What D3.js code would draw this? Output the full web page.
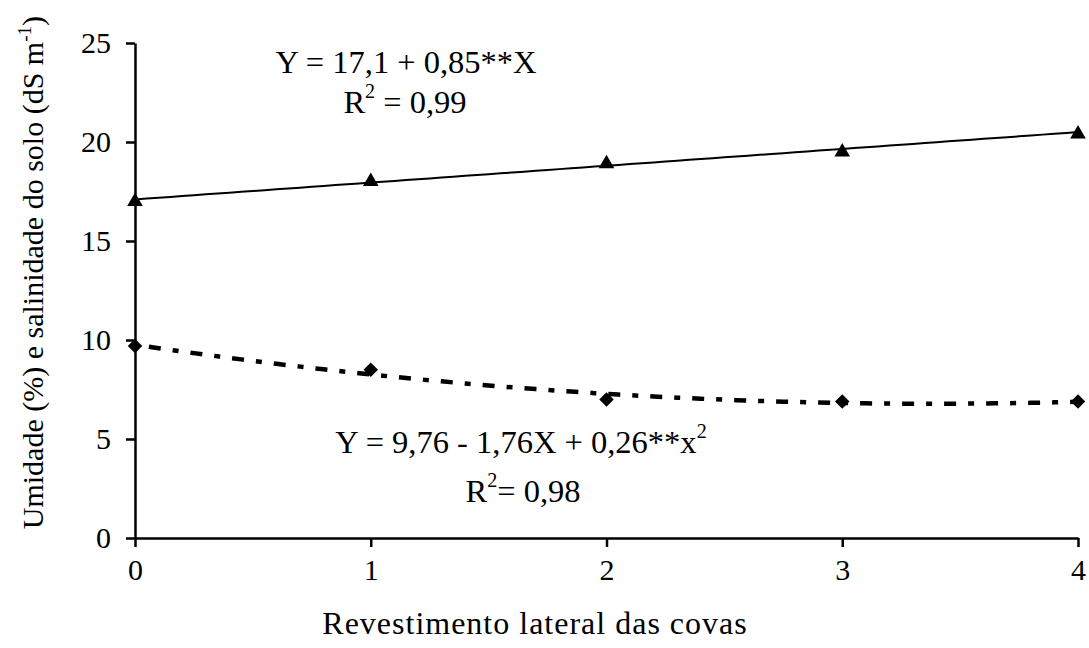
<!DOCTYPE html>
<html>
<head>
<meta charset="utf-8">
<script src="https://cdn.jsdelivr.net/npm/d3@7"></script>
<style>
  html, body { margin: 0; padding: 0; background: #fff; }
  svg { display: block; }
  svg text { font-family: "Liberation Serif", Tinos, "Times New Roman", Times, "DejaVu Serif", serif !important; fill: #000; }
</style>
</head>
<body>
<svg id="chart" width="1089" height="648"></svg>
<script>
// ---- data ----
const categories = [0, 1, 2, 3, 4];
const salinidade = [17.0, 18.0, 18.9, 19.5, 20.4];   // triangles
const umidade    = [9.7, 8.5, 7.0, 6.9, 6.9];         // diamonds
const linCoef  = [17.1, 0.85];            // Y = 17,1 + 0,85X
const quadCoef = [9.76, -1.76, 0.26];     // Y = 9,76 - 1,76X + 0,26x^2
const yTicks = [0, 5, 10, 15, 20, 25];
const xTicks = [0, 1, 2, 3, 4];

const FONT = '"Liberation Serif", Tinos, "Times New Roman", Times, "DejaVu Serif", serif';
const svg = d3.select("#chart");
const x = d3.scaleLinear().domain([0, 4]).range([135, 1078]);
const y = d3.scaleLinear().domain([0, 25]).range([538, 43]);

// axes
const xAxis = svg.append("g").attr("transform", "translate(0,538)")
  .call(d3.axisBottom(x).tickValues(xTicks).tickFormat(d3.format("d")).tickSize(9).tickPadding(12).tickSizeOuter(0));
const yAxis = svg.append("g").attr("transform", "translate(135,0)")
  .call(d3.axisLeft(y).tickValues(yTicks).tickFormat(d3.format("d")).tickSize(9).tickPadding(15).tickSizeOuter(0));
[xAxis, yAxis].forEach(g => {
  g.attr("font-family", FONT).attr("font-size", 30);
  g.select(".domain").attr("stroke", "#000").attr("stroke-width", 2.5);
  g.selectAll(".tick line").attr("stroke", "#000").attr("stroke-width", 2.5);
  g.selectAll(".tick text").attr("font-size", 30).attr("font-family", FONT);
});
xAxis.selectAll(".tick text").attr("dy", "0.71em");

// trend lines from displayed coefficients
const xs = d3.range(0, 4.0001, 0.05);
const lineGen = d3.line().x(d => x(d[0])).y(d => y(d[1]));
svg.append("path")
  .datum(xs.map(v => [v, linCoef[0] + linCoef[1] * v]))
  .attr("d", lineGen).attr("fill", "none").attr("stroke", "#000").attr("stroke-width", 2);
svg.append("path")
  .datum(xs.map(v => [v, quadCoef[0] + quadCoef[1] * v + quadCoef[2] * v * v]))
  .attr("d", lineGen).attr("fill", "none").attr("stroke", "#000").attr("stroke-width", 4.5)
  .attr("stroke-dasharray", "12,12,6,12").attr("stroke-dashoffset", -14);

// markers
svg.selectAll(".tri").data(categories).enter().append("path")
  .attr("d", d3.symbol().type(d3.symbolTriangle).size(105))
  .attr("transform", (d, i) => `translate(${x(d)},${y(salinidade[i])})`)
  .attr("fill", "#000");
svg.selectAll(".dia").data(categories).enter().append("path")
  .attr("d", d3.symbol().type(d3.symbolSquare).size(105))
  .attr("transform", (d, i) => `translate(${x(d)},${y(umidade[i])}) rotate(45)`)
  .attr("fill", "#000");

// equations
function eq(xc, yb, main, sup, after, size) {
  const t = svg.append("text").attr("x", xc).attr("y", yb).attr("text-anchor", "middle")
    .attr("font-size", size).attr("font-family", FONT);
  t.append("tspan").text(main);
  t.append("tspan").attr("dy", -size * 0.45).attr("font-size", size * 0.62).text(sup);
  if (after) t.append("tspan").attr("dy", size * 0.45).text(after);
}
svg.append("text").attr("x", 406).attr("y", 73).attr("text-anchor", "middle")
  .attr("font-size", 32.5).attr("font-family", FONT).text("Y = 17,1 + 0,85**X");
eq(405, 113, "R", "2", " = 0,99", 32.5);
eq(521, 453, "Y = 9,76 - 1,76X + 0,26**x", "2", null, 32.5);
eq(523, 502, "R", "2", "= 0,98", 32.5);

// axis titles
svg.append("text").attr("x", 535).attr("y", 634).attr("text-anchor", "middle")
  .attr("font-size", 32).attr("letter-spacing", 1).attr("font-family", FONT).text("Revestimento lateral das covas");
const yl = svg.append("text").attr("transform", "translate(43,16) rotate(-90)")
  .attr("text-anchor", "end").attr("font-size", 30).attr("font-family", FONT);
yl.append("tspan").text("Umidade (%) e salinidade do solo (dS m");
yl.append("tspan").attr("dy", -12).attr("font-size", 19).text("-1");
yl.append("tspan").attr("dy", 12).text(")");
</script>
</body>
</html>
